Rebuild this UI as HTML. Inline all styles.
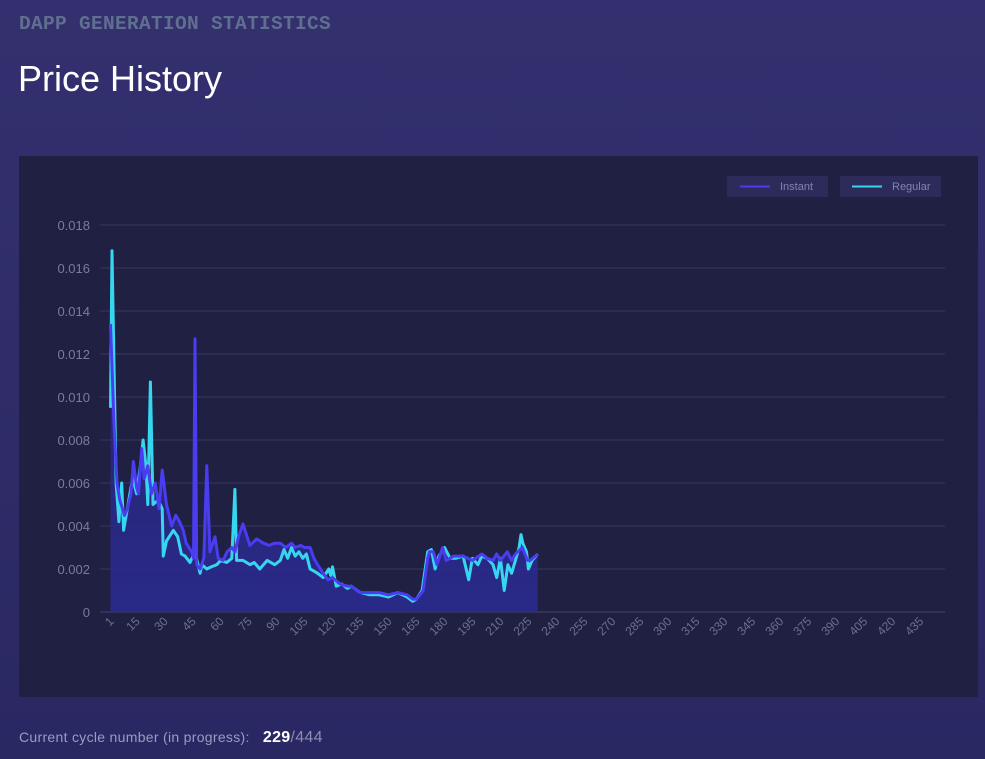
<!DOCTYPE html>
<html><head><meta charset="utf-8"><style>
body{margin:0;width:985px;height:759px;overflow:hidden;background:linear-gradient(#34306f,#2a2863);font-family:"Liberation Sans",sans-serif;position:relative}
.sub{position:absolute;left:19px;top:13px;font:bold 19.5px "Liberation Mono",monospace;color:#5f6f90;letter-spacing:0.3px}
h1{position:absolute;left:18px;top:58px;margin:0;font-weight:normal;font-size:36px;color:#fff}
.panel{position:absolute;left:19px;top:156px;width:959px;height:541px;background:#202043}
.foot{position:absolute;left:19px;top:729px;font-size:14px;color:#9a9cc0;letter-spacing:0.3px}
.foot b{color:#fff;font-size:16px;margin-left:9px}
.foot span{color:#8a8cb0;font-size:16px}
</style></head><body>
<div class="sub">DAPP GENERATION STATISTICS</div>
<h1>Price History</h1>
<div class="panel"></div>
<svg id="chart" width="985" height="759" style="position:absolute;left:0;top:0">
<defs><linearGradient id="fillg" x1="0" y1="0" x2="0" y2="1"><stop offset="0" stop-color="#2d2a90" stop-opacity="0.55"/><stop offset="1" stop-color="#2a2a90" stop-opacity="0.9"/></linearGradient></defs>
<g>
<rect x="727" y="176" width="101" height="21" fill="#2c2b5a"/>
<line x1="740" y1="186.5" x2="770" y2="186.5" stroke="#4a3cf0" stroke-width="2"/>
<text x="780" y="190" font-size="11" fill="#7f86b0">Instant</text>
<rect x="840" y="176" width="101" height="21" fill="#2c2b5a"/>
<line x1="852" y1="186.5" x2="882" y2="186.5" stroke="#36d6f0" stroke-width="2"/>
<text x="892" y="190" font-size="11" fill="#7f86b0">Regular</text>
</g>
</svg>
<div class="foot">Current cycle number (in progress): <b>229</b><span>/444</span></div>
<script>
const instCycles=[1,3,4.5,6,8.5,10,12,13.3,15,16,17.7,19,21,23,25,27,28.7,31,33.8,36,38,40,41.6,44.5,45.5,46.3,47.2,49,51,52.6,54.3,57,58.7,61.4,63.5,66,67.7,70,72,75.7,79.3,83,86,89,92,95,98,100,103,105,108,110,112,115,117.6,120,124,128,130,135,140,145,150,155,160,163,165,168.6,171,172,174,176,179,181,185,190,195,200,203,206,208,210,213.7,216,218,221.8,224.5,226,230];
const instValues=[0.0134,0.0085,0.006,0.0052,0.0045,0.0048,0.0055,0.007,0.0058,0.0055,0.0076,0.0062,0.0068,0.0055,0.006,0.0048,0.0066,0.005,0.004,0.0045,0.0042,0.0038,0.0032,0.0028,0.0025,0.0127,0.0022,0.002,0.0025,0.0068,0.0028,0.0035,0.0025,0.0024,0.0028,0.003,0.0028,0.0036,0.0041,0.0031,0.0034,0.0032,0.0031,0.0032,0.0032,0.003,0.0032,0.003,0.0031,0.003,0.003,0.0025,0.0022,0.0018,0.0015,0.0016,0.0013,0.0012,0.0012,0.0009,0.0009,0.0009,0.0008,0.0009,0.0008,0.0006,0.0006,0.001,0.0025,0.0028,0.0028,0.0022,0.003,0.0024,0.0026,0.0026,0.0024,0.0027,0.0025,0.0024,0.0027,0.0024,0.0028,0.0024,0.0027,0.003,0.0024,0.0024,0.0027];
const regCycles=[1,1.8,3,4,5.5,7,8,10,12,13,15,17,18.5,20,21,22.4,23.8,26.5,28.7,29.3,31,34.7,37,39,41,43.6,46.3,49,50,52.6,55,58,60,63.3,66,67.7,68.6,72,75.8,78,81,85,89,92,94,96,98,100,102,104,106,108,110,112,115,118,119,120,122,125,128,130,135,140,145,150,155,160,163,165,168,170,171,173,175,177,180,183,186,190,193,195,198,200,203,206,208,210,212,214,216,218,220,221,222,224,225,227,230];
const regValues=[0.0095,0.0168,0.011,0.006,0.0042,0.006,0.0038,0.0048,0.0058,0.0062,0.0055,0.0068,0.008,0.0068,0.005,0.0107,0.005,0.0052,0.0048,0.0026,0.0033,0.0038,0.0035,0.0027,0.0026,0.0023,0.0028,0.0018,0.0022,0.002,0.0021,0.0022,0.0024,0.0023,0.0025,0.0057,0.0024,0.0024,0.0022,0.0023,0.002,0.0024,0.0022,0.0024,0.0029,0.0025,0.003,0.0026,0.0028,0.0025,0.0027,0.002,0.0019,0.0018,0.0016,0.002,0.0017,0.0021,0.0012,0.0013,0.0011,0.0012,0.0009,0.0008,0.0008,0.0007,0.0009,0.0007,0.0005,0.0006,0.001,0.0022,0.0028,0.0029,0.002,0.0026,0.003,0.0025,0.0025,0.0026,0.0015,0.0025,0.0022,0.0026,0.0025,0.0022,0.0016,0.0025,0.001,0.0022,0.0018,0.0024,0.003,0.0036,0.0032,0.0028,0.002,0.0024,0.0027];
const yTicks=[0,0.002,0.004,0.006,0.008,0.010,0.012,0.014,0.016,0.018];
const yTickLabels=["0","0.002","0.004","0.006","0.008","0.010","0.012","0.014","0.016","0.018"];
const xTicks=[1,15,30,45,60,75,90,105,120,135,150,165,180,195,210,225,240,255,270,285,300,315,330,345,360,375,390,405,420,435];
const X0=110.5,X1=937,Y0=612,Y1=225,CMAX=444,VMAX=0.018;
const xs=c=>X0+(c-1)*(X1-X0)/(CMAX-1);
const ys=v=>Y0-v*(Y0-Y1)/VMAX;
const svg=document.getElementById('chart');const NS='http://www.w3.org/2000/svg';
const g=document.createElementNS(NS,'g');svg.appendChild(g);
function add(t,a,p){const e=document.createElementNS(NS,t);for(const k in a)e.setAttribute(k,a[k]);(p||g).appendChild(e);return e;}
yTicks.forEach((v,i)=>{
 const l=add('line',{x1:100,x2:945,y1:ys(v),y2:ys(v),stroke:i==0?'#45446e':'#37365f','stroke-width':1});
 
 
 const t=add('text',{x:90,y:ys(v)+5,'text-anchor':'end','font-size':13,fill:'#7a7d99'});
 t.textContent=yTickLabels[i];
 
 
});
xTicks.forEach(c=>{
 const x=xs(c);
 const t=add('text',{x:x+4,y:622,'text-anchor':'end','font-size':12,fill:'#6d7090',transform:`rotate(-45 ${x+4} 622)`});
 t.textContent=c;
 
 
});
function pts(cs,vs){return cs.map((c,i)=>xs(c).toFixed(1)+','+ys(vs[i]).toFixed(1)).join(' ');}
const area=add('polygon',{points:xs(1)+','+Y0+' '+pts(instCycles,instValues)+' '+xs(230)+','+Y0,fill:'url(#fillg)'});


const rl=add('polyline',{points:pts(regCycles,regValues),fill:'none',stroke:'#36d6f0','stroke-width':3,'stroke-linejoin':'round'});


const il=add('polyline',{points:pts(instCycles,instValues),fill:'none',stroke:'#4a3cf0','stroke-width':3,'stroke-linejoin':'round'});


</script>
</body></html>
